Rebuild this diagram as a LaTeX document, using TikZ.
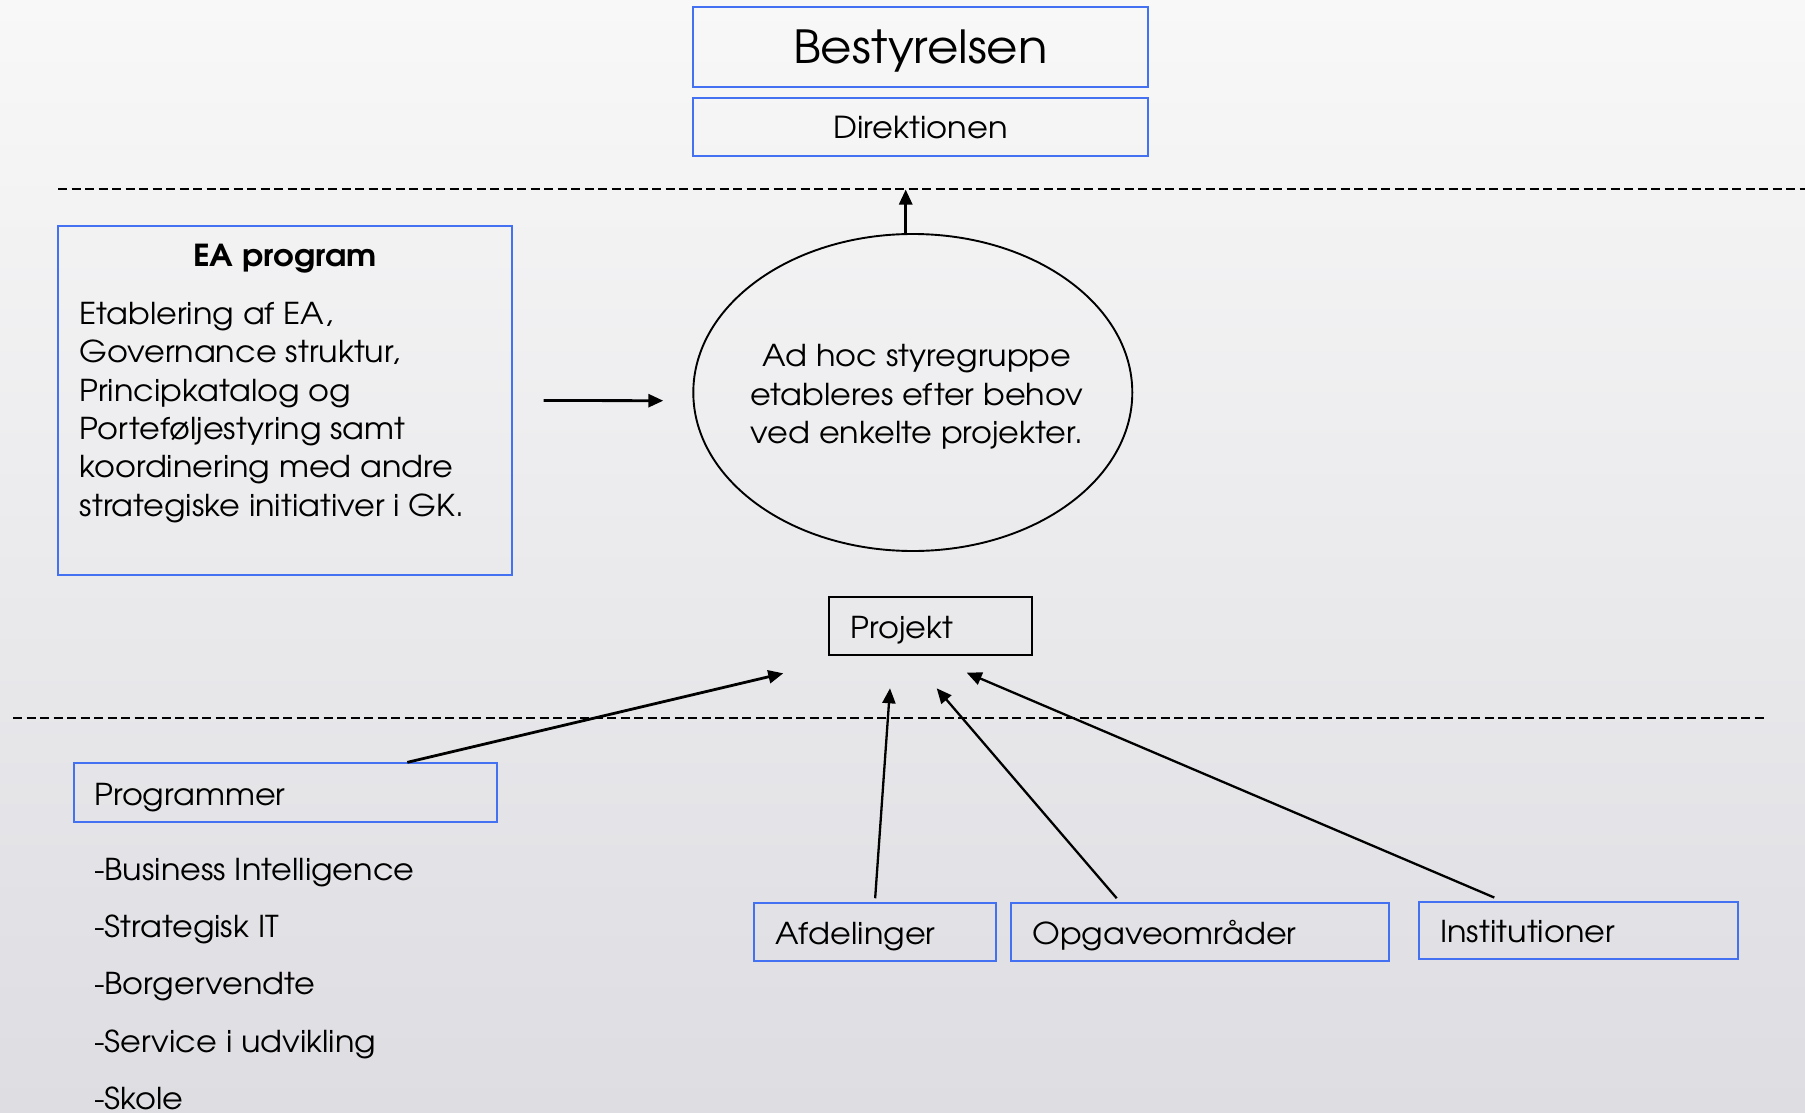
\documentclass[tikz,border=0pt]{standalone}
\usepackage{fontspec}
\setmainfont[FakeStretch=1.06]{TeX Gyre Adventor}
\usetikzlibrary{shapes.geometric,arrows.meta}
\definecolor{boxblue}{RGB}{68,112,242}
\definecolor{bgtop}{RGB}{248,248,248}
\definecolor{bgbot}{RGB}{221,221,226}
\begin{document}
\begin{tikzpicture}[x=1pt,y=1pt,
  bluebox/.style={draw=boxblue, line width=1.9pt, rectangle, inner sep=0pt},
  blackbox/.style={draw=black, line width=1.9pt, rectangle, inner sep=0pt},
  txt/.style={inner sep=0pt, anchor=base west, font=\fontsize{30.1}{38.3}\selectfont},
  sepline/.style={draw=black, line width=1.8pt, dash pattern=on 9pt off 4.5pt},
  arr/.style={line width=2.3pt, -{Triangle[length=15pt,width=13pt]}},
  thickarr/.style={arr, line width=2.8pt},
]
% background
\fill[top color=bgtop, bottom color=bgbot] (0,0) rectangle (1805,-1113);
\useasboundingbox (0,0) rectangle (1805,-1113);

% management boxes
\node[bluebox, minimum width=454.4pt, minimum height=79.4pt] (best) at (920.5,-47) {};
\node[inner sep=0pt, anchor=base, font=\fontsize{45.6}{50}\selectfont] (bestT) at (920.5,-64) {Bestyrelsen};
\node[bluebox, minimum width=454.4pt, minimum height=58pt] (dir) at (920.5,-127) {};
\node[inner sep=0pt, anchor=base, font=\fontsize{30.3}{36}\selectfont] (dirT) at (920.5,-138.3) {Direktionen};

% separators
\draw[sepline] (58,-189) -- (1805,-189);
\draw[sepline] (13,-718) -- (1768,-718);

% EA program (multi-line text is anchored at its last baseline)
\node[bluebox, minimum width=454pt, minimum height=349pt] (ea) at (285.3,-400.5) {};
\node[inner sep=0pt, anchor=base, font=\bfseries\fontsize{30.3}{36}\selectfont] (eaT) at (285,-266.7) {EA program};
\node[txt, align=left] (eaBody) at (79.3,-516) {Etablering af EA,\\Governance struktur,\\Principkatalog og\\Porteføljestyring samt\\koordinering med andre\\strategiske initiativer i GK.};

% ad hoc steering group
\node[draw=black, line width=1.9pt, ellipse, inner sep=0pt, minimum width=439pt, minimum height=317pt] (ell) at (912.8,-392.5) {};
\node[txt, anchor=base, align=center] (ellT) at (917,-443.3) {Ad hoc styregruppe\\etableres efter behov\\ved enkelte projekter.};

% project
\node[blackbox, minimum width=202.4pt, minimum height=58.6pt] (proj) at (930.5,-626) {};
\node[txt] (projT) at (850.7,-638.3) {Projekt};

% programmes
\node[bluebox, minimum width=423.3pt, minimum height=58.4pt] (prog) at (285.65,-792.5) {};
\node[txt] (progT) at (94.3,-805) {Programmer};
\node[txt, align=left, font=\fontsize{30.1}{57.2}\selectfont] (list) at (93.8,-1109.3) {-Business Intelligence\\-Strategisk IT\\-Borgervendte\\-Service i udvikling\\-Skole};

% organisation units
\node[bluebox, minimum width=242.3pt, minimum height=58pt] (afd) at (875.15,-931.7) {};
\node[txt] (afdT) at (775,-944) {Afdelinger};
\node[bluebox, minimum width=378pt, minimum height=58.3pt] (opg) at (1200.3,-931.85) {};
\node[txt] (opgT) at (1032.3,-944) {Opgaveområder};
\node[bluebox, minimum width=318.4pt, minimum height=57.3pt] (inst) at (1578.5,-930.65) {};
\node[txt] (instT) at (1440,-942.7) {Institutioner};

% arrow end points
\coordinate (upTip) at (905.7,-189.5);
\coordinate (eaTip) at (663.3,-400.7);
\coordinate (progTip) at (783.3,-673.3);
\coordinate (afdTip) at (890,-688.3);
\coordinate (opgTip) at (936.7,-688.3);
\coordinate (instTip) at (966.7,-672.7);

% connectors
\draw[thickarr] (upTip |- ell.north) -- (upTip);
\draw[thickarr] ([xshift=30.4pt]ea.east) -- (eaTip);
\draw[thickarr] ([xshift=121.65pt]prog.north) -- (progTip);
\draw[arr] ([yshift=3.5pt]afd.north) -- (afdTip);
\draw[arr] ([xshift=-83.6pt,yshift=3.5pt]opg.north) -- (opgTip);
\draw[arr] ([xshift=-84.2pt,yshift=3.5pt]inst.north) -- (instTip);
\end{tikzpicture}
\end{document}
